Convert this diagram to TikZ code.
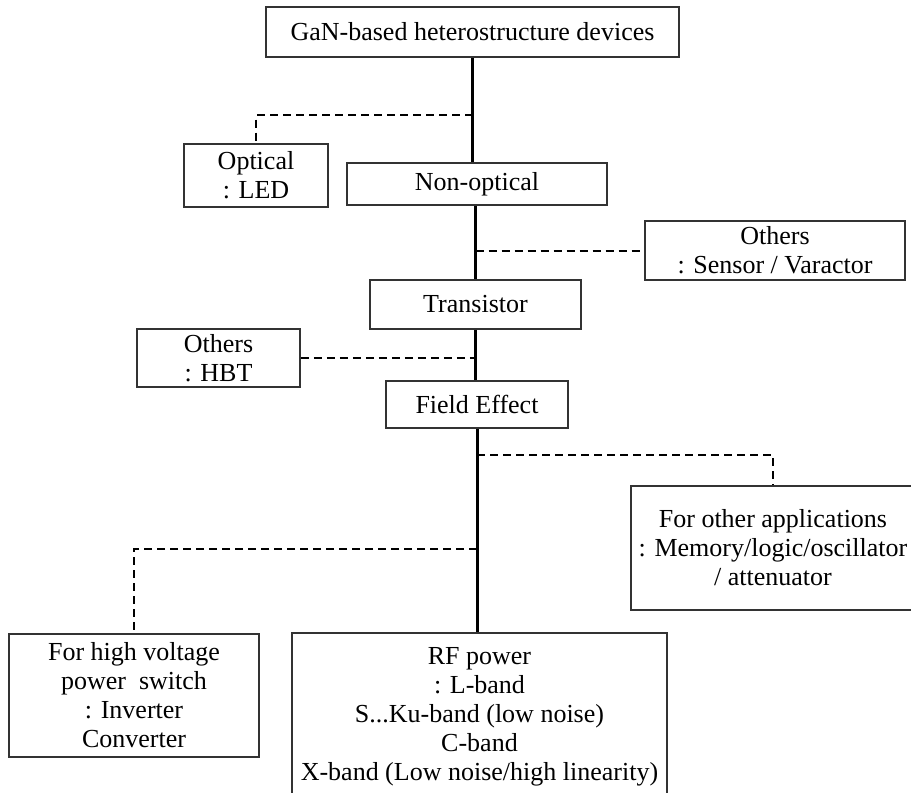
\documentclass[tikz,border=0pt]{standalone}
\usepackage{fontspec}
\setmainfont{Liberation Serif}
\usetikzlibrary{positioning}

\tikzset{
  box/.style={draw=black!80, line width=0.8pt, align=center, inner sep=0pt,
              font=\fontsize{13pt}{14.5pt}\selectfont},
  trunk/.style={line width=1.5pt, black},
  branch/.style={line width=1pt, black, dash pattern=on 4pt off 2.5pt},
}

\begin{document}
\begin{tikzpicture}[x=0.5pt,y=-0.5pt]
\clip (0,0) rectangle (911,793);
%\draw[step=50,gray,very thin] (0,0) grid (911,793); %background grid
%---------------------------------------------------
\node[box, minimum width=206.5pt, minimum height=25pt] (top) at (472.5,32) {GaN-based heterostructure devices};
\node[box, minimum width=72pt, minimum height=31.5pt] (optical) at (256,175.5) {Optical\\: LED};
\node[box, minimum width=130pt, minimum height=21pt] (nonopt) at (477,184) {Non-optical};
\node[box, minimum width=130pt, minimum height=29.5pt] (sensor) at (775,250.5) {Others\\: Sensor / Varactor};
\node[box, minimum width=105.5pt, minimum height=24.5pt] (trans) at (475.5,304.5) {Transistor};
\node[box, minimum width=81.5pt, minimum height=29pt] (hbt) at (218.5,358) {Others\\: HBT};
\node[box, minimum width=91pt, minimum height=23.5pt] (field) at (477,404.5) {Field Effect};
\node[box, minimum width=142pt, minimum height=62pt] (other) at (773,548) {For other applications\\: Memory/logic/oscillator\\/ attenuator};
\node[box, minimum width=125pt, minimum height=61.5pt] (hv) at (134,695.5) {For high voltage\\power\ \ switch\\: Inverter\\Converter};
\node[box, minimum width=187.5pt, minimum height=83.5pt] (rf) at (479.5,716.5) {RF power\\: L-band\\S...Ku-band (low noise)\\C-band\\X-band (Low noise/high linearity)};
%---------------------------------------------------
\coordinate (j1) at (472.5,115);
\coordinate (j2) at (475.5,250.5);
\coordinate (j4) at (477,455);
\coordinate (j5) at (477,549);
%---------------------------------------------------
\draw[trunk] (top.south) -- (top.south |- nonopt.north);
\draw[trunk] (trans.north |- nonopt.south) -- (trans.north);
\draw[trunk] (trans.south) -- (trans.south |- field.north);
\draw[trunk] (field.south) -- (field.south |- rf.north);
%---------------------------------------------------
\draw[branch] (j1) -| (optical.north);
\draw[branch] (j2) -- (sensor.west);
\draw[branch] (hbt.east) -- (hbt.east -| trans.south);
\draw[branch] (j4) -| (other.north);
\draw[branch] (j5) -| (hv.north);
\end{tikzpicture}
\end{document}
